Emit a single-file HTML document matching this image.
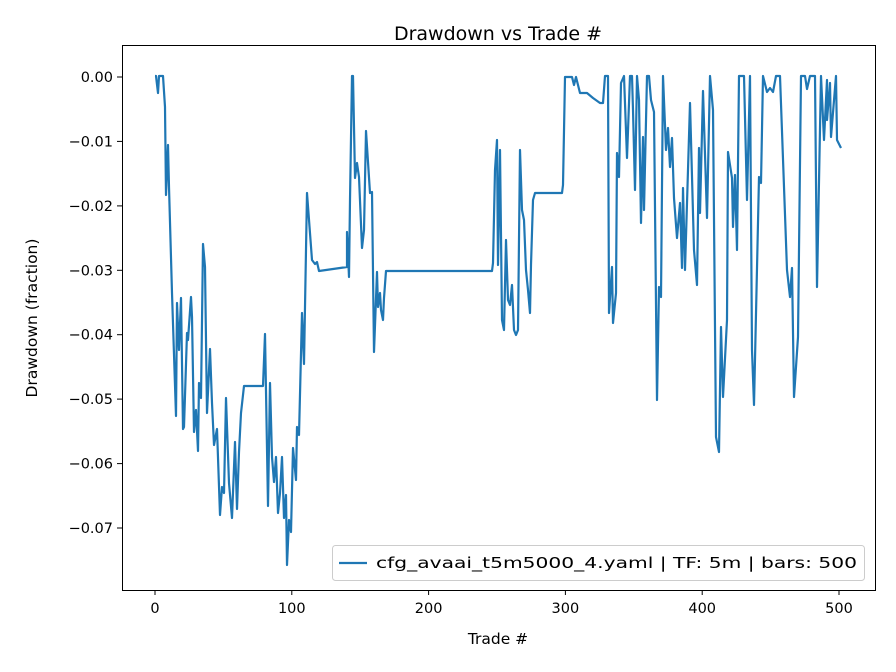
<!DOCTYPE html>
<html><head><style>body{margin:0;background:#fff}svg{display:block;font-family:"DejaVu Sans","Liberation Sans",sans-serif}</style></head><body>
<svg width="896" height="672" viewBox="0 0 896 672" xmlns="http://www.w3.org/2000/svg">
<rect width="896" height="672" fill="#fff"/>
<text x="498" y="40" font-size="19" text-anchor="middle" fill="#000">Drawdown vs Trade #</text>
<g stroke="#000" stroke-width="1">
<line x1="155" y1="590" x2="155" y2="595"/><line x1="291.8" y1="590" x2="291.8" y2="595"/><line x1="428.6" y1="590" x2="428.6" y2="595"/><line x1="565.4" y1="590" x2="565.4" y2="595"/><line x1="702.2" y1="590" x2="702.2" y2="595"/><line x1="839" y1="590" x2="839" y2="595"/>
<line x1="117" y1="77" x2="122" y2="77"/><line x1="117" y1="141.4" x2="122" y2="141.4"/><line x1="117" y1="205.9" x2="122" y2="205.9"/><line x1="117" y1="270.3" x2="122" y2="270.3"/><line x1="117" y1="334.7" x2="122" y2="334.7"/><line x1="117" y1="399.1" x2="122" y2="399.1"/><line x1="117" y1="463.6" x2="122" y2="463.6"/><line x1="117" y1="528" x2="122" y2="528"/>
</g>
<g font-size="14.5" fill="#000" text-anchor="middle">
<text x="155" y="613">0</text><text x="291.8" y="613">100</text><text x="428.6" y="613">200</text><text x="565.4" y="613">300</text><text x="702.2" y="613">400</text><text x="839" y="613">500</text>
</g>
<g font-size="14.5" fill="#000" text-anchor="end">
<text x="113" y="82">0.00</text><text x="113" y="146.4">−0.01</text><text x="113" y="210.9">−0.02</text><text x="113" y="275.3">−0.03</text><text x="113" y="339.7">−0.04</text><text x="113" y="404.1">−0.05</text><text x="113" y="468.6">−0.06</text><text x="113" y="533">−0.07</text>
</g>
<text x="498" y="644" font-size="15.5" text-anchor="middle">Trade #</text>
<text transform="translate(37,318) rotate(-90)" font-size="15.5" text-anchor="middle">Drawdown (fraction)</text>
<polyline fill="none" stroke="#1f77b4" stroke-width="2.2" stroke-linejoin="round" points="155,76 156,76 158,93 159,76 161,76 163,76 165,107 166,195 168,145 169,187 172,293 176,416 177,303 179,350 181,298 183,429 184,427 187,333 188,340 191,297 192,317 194,432 196,410 198,451 199,383 201,398 203,244 205,267 207,413 210,349 212,403 214,445 217,429 220,515 222,487 224,493 226,398 229,483 232,518 235,442 237,509 239,452 241,413 244,386 263,386 265,334 268,506 270,383 272,457 274,482 276,457 278,513 280,493 282,457 284,518 286,495 287,565 289,520 291,532 293,448 296,480 297,427 299,435 302,313 304,364 307,193 312,260 315,264 317,262 319,271 347,267 347,232 349,277 350,200 352,76 353,76 355,178 357,163 359,177 362,248 364,230 366,131 370,193 372,192 374,352 377,272 378,307 380,293 381,310 383,320 384,298 386,271 492,271 493,263 495,170 497,140 498,265 500,150 502,320 504,330 506,240 508,300 510,305 512,285 514,330 516,335 518,330 520,150 522,210 524,220 526,270 528,290 530,313 531,265 533,200 535,193 562,193 563,185 565,77 572,77 574,85 576,77 580,93 587,93 593,98 600,103 603,103 605,76 608,76 609,313 612,267 613,323 616,293 617,153 619,177 621,83 624,76 627,158 630,76 632,76 633,110 635,190 637,76 639,100 641,223 643,137 644,210 647,76 649,76 651,100 654,112 657,400 659,287 661,297 663,76 666,150 668,128 670,167 672,138 674,198 677,238 680,203 682,268 683,188 685,270 690,103 694,250 697,285 699,148 700,213 703,91 707,218 710,76 713,110 716,437 719,452 721,327 723,397 727,320 728,152 732,178 733,227 735,175 737,250 739,76 744,76 747,200 750,76 752,350 754,405 759,177 761,183 763,76 767,92 770,88 773,92 776,76 780,76 787,270 790,297 792,268 794,397 798,337 801,76 805,76 807,89 810,76 815,76 817,287 821,76 824,140 827,80 827,120 830,83 831,137 836,76 837,140 841,148"/>
<rect x="122.5" y="45.5" width="753" height="545" fill="none" stroke="#000" stroke-width="1"/>
<rect x="332.5" y="545.5" width="532" height="35" rx="3" fill="#fff" fill-opacity="0.8" stroke="#ccc"/>
<line x1="339" y1="563" x2="367" y2="563" stroke="#1f77b4" stroke-width="2.2"/>
<text x="376" y="568" font-size="15" textLength="481" lengthAdjust="spacingAndGlyphs">cfg_avaai_t5m5000_4.yaml | TF: 5m | bars: 500</text>
</svg>
</body></html>
